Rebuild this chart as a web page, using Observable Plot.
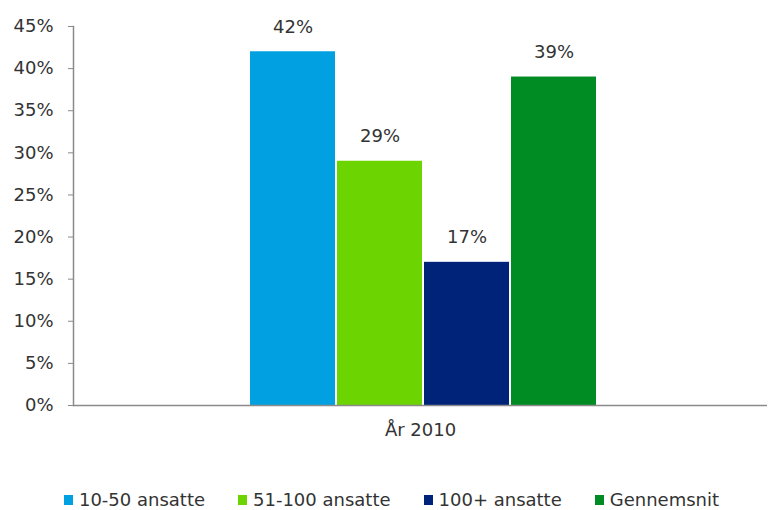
<!DOCTYPE html>
<html>
<head>
<meta charset="utf-8">
<script src="https://cdn.jsdelivr.net/npm/d3@7"></script>
<script src="https://cdn.jsdelivr.net/npm/@observablehq/plot@0.6"></script>
<style>
  body { margin: 0; background: #fff; font-family: "DejaVu Sans", sans-serif; }
  #legend {
    display: flex; justify-content: center; align-items: center; gap: 33px;
    width: 769px; padding-top: 34px; padding-left: 14px; box-sizing: border-box;
    font-size: 18px; line-height: 22px; color: #333;
  }
  #legend .item { display: flex; align-items: center; white-space: nowrap; }
  #legend .sw { display: inline-block; width: 9px; height: 10px; margin-right: 6px; }
</style>
</head>
<body>
<div id="chart"></div>
<div id="legend"></div>
<script>
// Share of companies by size group, year 2010
const years = ["År 2010"];
const series = ["10-50 ansatte", "51-100 ansatte", "100+ ansatte", "Gennemsnit"];
const values = [42, 29, 17, 39];
const colors = ["#00A0E1", "#6CD400", "#00237A", "#008C22"];
const yTicks = [0, 5, 10, 15, 20, 25, 30, 35, 40, 45];

const data = series.map((s, i) => ({ year: years[0], series: s, value: values[i] }));

const chart = Plot.plot({
  width: 769,
  height: 455,
  marginLeft: 73,
  marginRight: 2,
  marginTop: 26,
  marginBottom: 50,
  style: { fontFamily: "DejaVu Sans, sans-serif", fontSize: "18px", color: "#333", background: "#fff" },
  fx: { domain: years, padding: 0, label: null },
  x: { domain: series, paddingInner: 0.02, paddingOuter: 1.98, align: 0.51, axis: null },
  y: { domain: [0, 45], axis: null },
  color: { domain: series, range: colors },
  marks: [
    Plot.barY(data, { fx: "year", x: "series", y: "value", fill: "series" }),
    Plot.text(data, { fx: "year", x: "series", y: "value", text: d => d.value + "%", dy: -25, fontSize: 18, fill: "#333" }),
    Plot.ruleY([0], { stroke: "#8a8a8a", strokeWidth: 1.5 }),
    Plot.frame({ anchor: "left", stroke: "#8a8a8a", strokeWidth: 1.5 }),
    Plot.axisY({ ticks: yTicks, tickFormat: d => d + "%", tickSize: 5, tickPadding: 15, stroke: "#8a8a8a", fontSize: 18, label: null }),
    Plot.axisFx({ anchor: "bottom", tickSize: 0, tickPadding: 18, label: null, fontSize: 18 })
  ]
});
document.getElementById("chart").appendChild(chart);

// Legend below the chart
const legend = document.getElementById("legend");
series.forEach((s, i) => {
  const item = document.createElement("span");
  item.className = "item";
  const sw = document.createElement("span");
  sw.className = "sw";
  sw.style.background = colors[i];
  item.appendChild(sw);
  item.appendChild(document.createTextNode(s));
  legend.appendChild(item);
});
</script>
</body>
</html>
